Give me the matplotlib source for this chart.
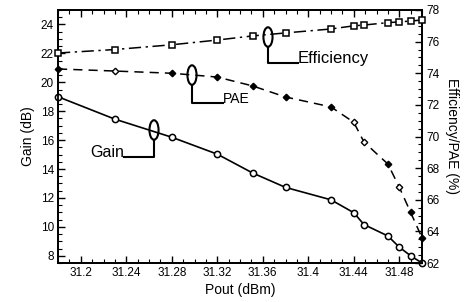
import matplotlib
matplotlib.use("Agg")
import matplotlib.pyplot as plt
from matplotlib.patches import Ellipse
from matplotlib.ticker import MultipleLocator

plt.rcParams['font.family'] = ['Liberation Sans', 'DejaVu Sans']

pout = [31.18, 31.23, 31.28, 31.32, 31.351, 31.38, 31.42, 31.44, 31.449, 31.47, 31.48, 31.49, 31.50]
gain = [19.0, 17.45, 16.2, 15.03, 13.73, 12.73, 11.87, 10.98, 10.16, 9.37, 8.6, 8.0, 7.5]
efficiency = [75.28, 75.5, 75.8, 76.1, 76.36, 76.55, 76.8, 77.0, 77.05, 77.2, 77.25, 77.3, 77.37]
pae = [74.27, 74.14, 74.0, 73.76, 73.2, 72.5, 71.87, 70.9, 69.65, 68.26, 66.8, 65.2, 63.6]
pae_filled = [True, False, True, True, True, True, True, False, False, True, False, True, True]

xticks = [31.2, 31.24, 31.28, 31.32, 31.36, 31.4, 31.44, 31.48]
xticklabels = ["31.2", "31.24", "31.28", "31.32", "31.36", "31.4", "31.44", "31.48"]
gain_ticks = [8, 10, 12, 14, 16, 18, 20, 22, 24]
eff_ticks = [62, 64, 66, 68, 70, 72, 74, 76, 78]

fig = plt.figure(figsize=(4.68, 3.02), dpi=100)
ax = fig.add_axes([58/468, 39/302, 364/468, 253/302])
ax2 = ax.twinx()

# Gain
ax.plot(pout, gain, color='black', lw=1.2, marker='o', ms=4.5, mfc='white',
        mec='black', mew=1.1, clip_on=False, zorder=3)

# Efficiency
ax2.plot(pout, efficiency, color='black', lw=1.1, dashes=(8, 3, 1.5, 3),
         marker='s', ms=4.5, mfc='white', mec='black', mew=1.1, clip_on=False, zorder=3)

# PAE
ax2.plot(pout, pae, color='black', lw=1.1, dashes=(6, 4), zorder=2, clip_on=False)
for xv, yv, f in zip(pout, pae, pae_filled):
    ax2.plot([xv], [yv], marker='D', ms=3.3, mfc='black' if f else 'white',
             mec='black', mew=1.0, clip_on=False, zorder=3, ls='none')

ax.set_xlim(31.18, 31.50)
ax.set_ylim(7.5, 25)
ax2.set_ylim(62, 78)

ax.set_xticks(xticks)
ax.set_xticklabels(xticklabels)
ax.set_yticks(gain_ticks)
ax2.set_yticks(eff_ticks)
ax.xaxis.set_minor_locator(MultipleLocator(0.01))
ax.yaxis.set_minor_locator(MultipleLocator(0.5))
ax2.yaxis.set_minor_locator(MultipleLocator(0.5))

for a in (ax, ax2):
    a.tick_params(which='major', direction='in', length=5, width=1.0, labelsize=8.5, pad=3)
    a.tick_params(which='minor', direction='in', length=3, width=0.8)
    for s in a.spines.values():
        s.set_linewidth(1.3)
ax.tick_params(which='both', top=True)
ax.tick_params(axis='y', which='both', right=False)

ax.set_xlabel("Pout (dBm)", fontsize=10, labelpad=3)
ax.set_ylabel("Gain (dB)", fontsize=10, labelpad=4)
ax2.set_ylabel("Efficiency/PAE (%)", fontsize=10, rotation=-90, labelpad=14)

# Annotations (ellipses with leader lines), in gain-axis data coordinates
def callout(cx, cy, w, h, x_end, y_line, label, ha, fs):
    ax.add_patch(Ellipse((cx, cy), w, h, fill=False, ec='black', lw=1.5, zorder=4))
    ax.plot([cx, cx, x_end], [cy - h / 2, y_line, y_line], color='black', lw=1.5, zorder=4)
    ax.text(x_end, y_line, label, ha=ha, va='baseline', fontsize=fs)

callout(31.2644, 16.7, 0.008, 1.35, 31.238, 14.83, "Gain", 'right', 11.5)
callout(31.2978, 20.5, 0.008, 1.35, 31.325, 18.56, "PAE", 'left', 10)
callout(31.3646, 23.13, 0.008, 1.35, 31.391, 21.33, "Efficiency", 'left', 12)

fig.savefig("out.png", dpi=100)
